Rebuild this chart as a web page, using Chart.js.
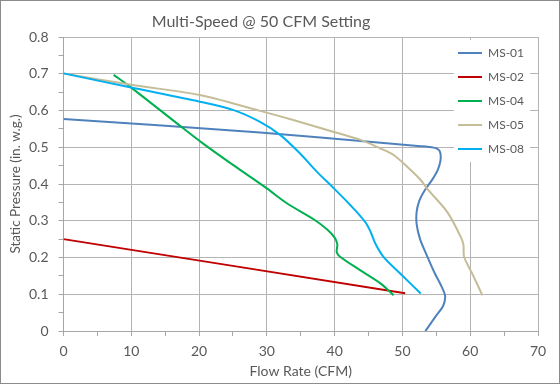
<!DOCTYPE html>
<html><head><meta charset="utf-8">
<script src="https://cdn.jsdelivr.net/npm/chart.js@4"></script>
<style>
html,body{margin:0;padding:0;background:#fff;}
#wrap{position:absolute;left:0;top:0;width:560px;height:384px;box-sizing:border-box;border:1px solid #8c8c8c;background:#fff;}
canvas{display:block;}
</style></head><body>
<div id="wrap"><canvas id="c" width="558" height="382"></canvas></div>
<script>
const chartTitle = 'Multi-Speed @ 50 CFM Setting';
const xAxisTitle = 'Flow Rate (CFM)';
const yAxisTitle = 'Static Pressure (in. w.g.)';

const seriesNames  = ['MS-01', 'MS-02', 'MS-04', 'MS-05', 'MS-08'];
const seriesColors = ['#4F81BD', '#C00000', '#00B050', '#C4BD97', '#00B0F0'];

const flowMS01     = [0, 29, 46.8, 52.7, 54.6, 55.3, 55.6, 55.6, 55.2, 54.4, 53.3, 52.5, 52.1, 52.1, 52.6, 53.5, 54.7, 55.8, 56.3, 56.0, 54.9, 53.4];
const pressureMS01 = [0.577, 0.540, 0.512, 0.503, 0.499, 0.494, 0.484, 0.462, 0.438, 0.412, 0.383, 0.355, 0.325, 0.290, 0.250, 0.210, 0.160, 0.120, 0.095, 0.068, 0.040, 0.0];

const flowMS02     = [0, 50.4];
const pressureMS02 = [0.250, 0.103];

const flowMS04     = [7.4, 9.8, 17.7, 20.6, 25, 30, 33, 36.9, 38.9, 40.0, 40.4, 40.3, 40.8, 43.8, 46.8, 48.7];
const pressureMS04 = [0.697, 0.665, 0.551, 0.510, 0.452, 0.388, 0.347, 0.304, 0.276, 0.254, 0.236, 0.215, 0.202, 0.165, 0.129, 0.097];

const flowMS05     = [0, 10, 20.1, 29, 33.9, 38.9, 43.8, 46.7, 48.7, 50.7, 52.7, 53.6, 56.6, 58.6, 59.0, 59.1, 60.3, 61.8];
const pressureMS05 = [0.701, 0.670, 0.642, 0.599, 0.574, 0.547, 0.520, 0.497, 0.479, 0.447, 0.411, 0.388, 0.324, 0.256, 0.234, 0.202, 0.156, 0.097];

const flowMS08     = [0, 9.8, 20.1, 25.1, 29, 32, 34.9, 37.4, 39.9, 42.3, 44.5, 45.3, 46.0, 47.2, 49.7, 52.7];
const pressureMS08 = [0.701, 0.663, 0.624, 0.601, 0.569, 0.533, 0.483, 0.433, 0.388, 0.343, 0.297, 0.270, 0.238, 0.202, 0.156, 0.102];

const xMajorTicks = [0, 10, 20, 30, 40, 50, 60, 70];
const xTickLabels = ['0', '10', '20', '30', '40', '50', '60', '70'];
const yMajorTicks = [0, 0.1, 0.2, 0.3, 0.4, 0.5, 0.6, 0.7, 0.8];
const yTickLabels = ['0', '0.1', '0.2', '0.3', '0.4', '0.5', '0.6', '0.7', '0.8'];

const FONT = 'Lato, "Open Sans", sans-serif';
const TEXT_COLOR = '#595959';
const GRID_COLOR = '#b4b4b4';
const AXIS_COLOR = '#a6a6a6';

const flows = [flowMS01, flowMS02, flowMS04, flowMS05, flowMS08];
const pressures = [pressureMS01, pressureMS02, pressureMS04, pressureMS05, pressureMS08];

function withMinor(majors) {
  const out = [];
  for (let i = 0; i < majors.length; i++) {
    out.push(majors[i]);
    if (i < majors.length - 1) out.push((majors[i] + majors[i + 1]) / 2);
  }
  return out;
}
function majorIndex(v, majors) {
  for (let i = 0; i < majors.length; i++) if (Math.abs(majors[i] - v) < 1e-9) return i;
  return -1;
}

const datasets = seriesNames.map((name, i) => ({
  label: name,
  data: flows[i].map((x, j) => ({x: x, y: pressures[i][j]})),
  borderColor: seriesColors[i],
  backgroundColor: seriesColors[i],
  borderWidth: 2,
  pointRadius: 0,
  pointHoverRadius: 0,
  showLine: true,
  fill: false,
  tension: 0.3,
  order: seriesNames.length - 1 - i
}));

const overlayPlugin = {
  id: 'overlayLayout',
  afterLayout(chart) {
    const a = chart.chartArea;
    const t = chart.titleBlock;
    if (t) { t.left = 0; t.right = 520; t.width = 520; }
    const lg = chart.legend;
    if (lg) {
      lg.left = a.right - 92; lg.right = a.right; lg.width = 92;
      lg.top = a.top - 2; lg.bottom = a.bottom; lg.height = a.bottom - lg.top;
    }
  },
  beforeDatasetsDraw(chart) {
    const a = chart.chartArea, ctx = chart.ctx;
    ctx.save();
    ctx.fillStyle = '#ffffff';
    ctx.fillRect(a.right - 84, a.top + 3, 76, 122);
    ctx.restore();
    if (chart.legend) chart.legend.draw(a);
  }
};

new Chart(document.getElementById('c'), {
  type: 'scatter',
  data: {datasets: datasets},
  plugins: [overlayPlugin],
  options: {
    responsive: false,
    animation: false,
    devicePixelRatio: 1,
    layout: {padding: {left: 0, right: 21, top: 0, bottom: 0}},
    plugins: {
      tooltip: {enabled: false},
      title: {
        display: true, text: chartTitle, color: TEXT_COLOR,
        font: {family: FONT, size: 16, weight: 'normal'},
        padding: {top: 11, bottom: 5.8}
      },
      legend: {
        position: 'chartArea', align: 'start',
        labels: {
          usePointStyle: true, pointStyle: 'line', pointStyleWidth: 24,
          color: TEXT_COLOR, font: {family: FONT, size: 12},
          padding: 12,
          sort: (a, b) => a.datasetIndex - b.datasetIndex
        }
      }
    },
    scales: {
      x: {
        type: 'linear', position: 'bottom', min: 0, max: 70,
        afterBuildTicks: s => { s.ticks = withMinor(xMajorTicks).map(v => ({value: v})); },
        afterFit: s => { s.height = 52; },
        ticks: {
          autoSkip: false, maxRotation: 0, color: TEXT_COLOR, padding: 7,
          font: {family: FONT, size: 14},
          callback: v => { const k = majorIndex(v, xMajorTicks); return k >= 0 ? xTickLabels[k] : ''; }
        },
        grid: {
          color: c => (c.tick && majorIndex(c.tick.value, xMajorTicks) >= 0) ? GRID_COLOR : 'rgba(0,0,0,0)',
          tickColor: AXIS_COLOR, tickLength: 5, lineWidth: 1
        },
        border: {color: AXIS_COLOR, width: 1},
        title: {
          display: true, text: xAxisTitle, color: TEXT_COLOR,
          font: {family: FONT, size: 14}, padding: {top: 0, bottom: 3}
        }
      },
      y: {
        type: 'linear', position: 'left', min: 0, max: 0.8,
        afterBuildTicks: s => { s.ticks = withMinor(yMajorTicks).map(v => ({value: v})); },
        afterFit: s => { s.width = 62.5; },
        ticks: {
          autoSkip: false, color: TEXT_COLOR, padding: 10,
          font: {family: FONT, size: 14},
          callback: v => { const k = majorIndex(v, yMajorTicks); return k >= 0 ? yTickLabels[k] : ''; }
        },
        grid: {
          color: c => (c.tick && majorIndex(c.tick.value, yMajorTicks) >= 0) ? GRID_COLOR : 'rgba(0,0,0,0)',
          tickColor: AXIS_COLOR, tickLength: 5, lineWidth: 1
        },
        border: {color: AXIS_COLOR, width: 1},
        title: {
          display: true, text: yAxisTitle, color: TEXT_COLOR,
          font: {family: FONT, size: 13.5}, padding: {top: 7, bottom: 0}
        }
      }
    }
  }
});
</script>
</body></html>
